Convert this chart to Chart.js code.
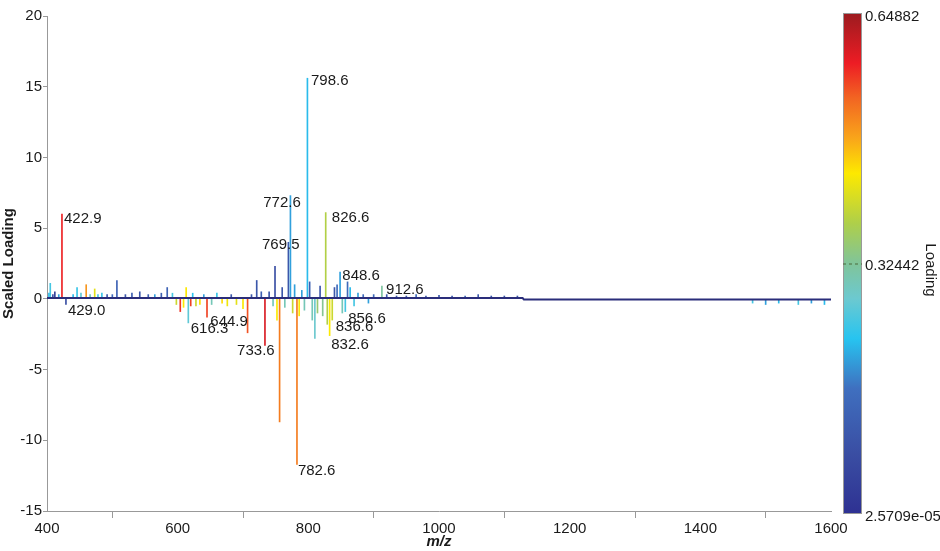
<!DOCTYPE html>
<html>
<head>
<meta charset="utf-8">
<script src="https://cdn.jsdelivr.net/npm/chart.js@4.4.0/dist/chart.umd.min.js"></script>
<style>
  body { margin: 0; background: #fff; }
</style>
</head>
<body>
<canvas id="loadingChart" width="940" height="551"></canvas>
<script>
// stems: m/z, scaled loading, loading value (drives the colour)
const peakMz = [403, 405, 409, 412, 418, 422.9, 429.0, 440, 446, 452, 460, 466, 473, 478, 484, 492, 500, 507,
  520, 530, 542, 555, 565, 575, 584, 592, 598, 604, 609, 613, 616.3, 620, 623, 628, 634, 640, 644.9, 652, 660,
  668, 676, 682, 690, 700, 707, 713, 721, 728, 733.6, 740, 746, 749, 752, 756, 760, 764, 769.5, 772.6, 776, 779,
  782.6, 786, 790, 794, 798.6, 802, 806, 810, 814, 818, 822, 826.6, 829, 832.6, 836.6, 840, 844, 848.6, 852,
  856.6, 860, 864, 870, 876, 884, 892, 900, 912.6, 920, 935, 950, 965, 980, 1000, 1020, 1040, 1060, 1080, 1100,
  1120, 1480, 1500, 1520, 1550, 1570, 1590];
const peakVal = [0.4, 1.1, 0.3, 0.5, 0.3, 6.0, -0.4, 0.3, 0.8, 0.4, 1.0, 0.3, 0.7, 0.3, 0.4, 0.3, 0.3, 1.3,
  0.3, 0.4, 0.5, 0.3, 0.3, 0.4, 0.8, 0.4, -0.4, -0.9, -0.6, 0.8, -1.7, -0.5, 0.4, -0.5, -0.4, 0.3, -1.3, -0.4, 0.4,
  -0.3, -0.5, 0.3, -0.4, -0.7, -2.4, 0.3, 1.3, 0.5, -3.3, 0.5, -0.5, 2.3, -1.5, -8.7, 0.8, -0.6, 4.0, 7.3, -1.0, 1.0,
  -11.7, -1.2, 0.6, -0.8, 15.6, 1.2, -1.5, -2.8, -1.0, 0.9, -1.2, 6.1, -1.8, -2.6, -1.5, 0.8, 1.0, 1.9, -1.0,
  -0.9, 1.2, 0.8, -0.5, 0.4, 0.3, -0.3, 0.3, 0.9, 0.3, 0.2, 0.2, 0.3, 0.2, 0.25, 0.2, 0.2, 0.3, 0.2, 0.2,
  0.2, -0.3, -0.4, -0.3, -0.4, -0.3, -0.4];
const peakLoad = [0.22, 0.25, 0.08, 0.05, 0.2, 0.58, 0.08, 0.22, 0.24, 0.27, 0.5, 0.3, 0.42, 0.25, 0.24, 0.1, 0.15, 0.13,
  0.1, 0.12, 0.1, 0.12, 0.2, 0.12, 0.13, 0.25, 0.4, 0.57, 0.44, 0.44, 0.27, 0.56, 0.23, 0.4, 0.45, 0.2, 0.56, 0.3, 0.24,
  0.45, 0.43, 0.1, 0.42, 0.44, 0.55, 0.1, 0.1, 0.12, 0.6, 0.1, 0.3, 0.08, 0.44, 0.52, 0.1, 0.3, 0.1, 0.2, 0.4, 0.2,
  0.52, 0.44, 0.2, 0.3, 0.22, 0.12, 0.3, 0.28, 0.35, 0.1, 0.33, 0.38, 0.38, 0.44, 0.4, 0.1, 0.15, 0.2, 0.3,
  0.25, 0.15, 0.22, 0.25, 0.2, 0.15, 0.2, 0.15, 0.32, 0.1, 0.1, 0.1, 0.15, 0.1, 0.1, 0.1, 0.15, 0.1, 0.1, 0.1,
  0.1, 0.25, 0.2, 0.22, 0.25, 0.2, 0.22];

// baseline trace
const baseMz = [400, 1128, 1130, 1600];
const baseVal = [0.06, 0.06, -0.05, -0.05];

// peak annotations (text left edge m/z, text centre value)
const labelText = ['422.9', '429.0', '616.3', '644.9', '733.6', '769.5', '772.6', '798.6', '782.6', '826.6', '848.6', '912.6', '856.6', '836.6', '832.6'];
const labelMz = [426, 432, 620, 650, 691, 729, 731, 804, 784, 836, 852, 919, 861, 842, 835];
const labelVal = [5.66, -0.85, -2.12, -1.63, -3.68, 3.82, 6.79, 15.43, -12.17, 5.73, 1.63, 0.64, -1.42, -1.98, -3.26];

const loadMin = 2.5709e-05;
const loadMax = 0.64882;
const loadTickText = ['0.64882', '0.32442', '2.5709e-05'];

const jetStops = [
  [0.00, [46, 49, 146]], [0.12, [58, 78, 163]], [0.25, [63, 111, 191]], [0.35, [39, 196, 240]],
  [0.43, [108, 201, 208]], [0.50, [128, 196, 154]], [0.58, [174, 207, 74]], [0.68, [253, 233, 0]],
  [0.75, [249, 165, 26]], [0.83, [242, 101, 34]], [0.90, [237, 28, 36]], [1.00, [155, 27, 31]]
];

function jet(v) {
  const f = Math.min(1, Math.max(0, (v - loadMin) / (loadMax - loadMin)));
  for (let i = 1; i < jetStops.length; i++) {
    const [f1, c1] = jetStops[i];
    const [f0, c0] = jetStops[i - 1];
    if (f <= f1) {
      const t = (f - f0) / (f1 - f0);
      const c = c0.map((a, k) => Math.round(a + (c1[k] - a) * t));
      return 'rgb(' + c.join(',') + ')';
    }
  }
  return 'rgb(155,27,31)';
}

const FONT = 'Liberation Sans, Arial, sans-serif';

const annotations = {
  id: 'annotations',
  afterDraw(chart) {
    const { ctx, scales: { x, y } } = chart;
    ctx.save();
    // peak labels
    ctx.font = '15px ' + FONT;
    ctx.fillStyle = '#1a1a1a';
    ctx.textBaseline = 'middle';
    ctx.textAlign = 'left';
    labelText.forEach((t, i) => {
      ctx.fillText(t, x.getPixelForValue(labelMz[i]), y.getPixelForValue(labelVal[i]));
    });

    // colour bar
    const top = 13, bot = 514, left = 843, w = 19;
    const grad = ctx.createLinearGradient(0, bot, 0, top);
    jetStops.forEach(([f, c]) => grad.addColorStop(f, 'rgb(' + c.join(',') + ')'));
    ctx.fillStyle = grad;
    ctx.fillRect(left, top, w, bot - top);
    ctx.strokeStyle = '#999';
    ctx.lineWidth = 1;
    ctx.strokeRect(left + 0.5, top + 0.5, w - 1, bot - top - 1);
    const mid = (top + bot) / 2;
    ctx.setLineDash([3, 3]);
    ctx.strokeStyle = '#4a6a3a';
    ctx.beginPath();
    ctx.moveTo(left, mid + 0.5);
    ctx.lineTo(left + w, mid + 0.5);
    ctx.stroke();
    ctx.setLineDash([]);
    ctx.fillStyle = '#1a1a1a';
    ctx.font = '15px ' + FONT;
    ctx.fillText(loadTickText[0], left + w + 3, top + 4);
    ctx.fillText(loadTickText[1], left + w + 3, mid + 2);
    ctx.fillText(loadTickText[2], left + w + 3, bot + 3);
    ctx.translate(930, 270);
    ctx.rotate(Math.PI / 2);
    ctx.textAlign = 'center';
    ctx.fillText('Loading', 0, 0);
    ctx.restore();
  }
};

new Chart(document.getElementById('loadingChart'), {
  type: 'bar',
  data: {
    datasets: [
      {
        type: 'line',
        data: baseMz.map((m, i) => ({ x: m, y: baseVal[i] })),
        borderColor: '#2a2d7a',
        borderWidth: 2,
        pointRadius: 0,
        order: 0
      },
      {
        data: peakMz.map((m, i) => ({ x: m, y: peakVal[i] })),
        backgroundColor: peakLoad.map(jet),
        borderWidth: 0,
        barThickness: 1,
        order: 1
      }
    ]
  },
  options: {
    responsive: false,
    animation: false,
    layout: { padding: { left: 0, right: 109, top: 16, bottom: 0 } },
    plugins: { legend: { display: false }, tooltip: { enabled: false } },
    scales: {
      x: {
        type: 'linear',
        min: 400,
        max: 1600,
        offset: false,
        afterFit: s => { s.height = 40; },
        ticks: { stepSize: 200, color: '#1a1a1a', font: { family: FONT, size: 15 }, padding: 2, maxRotation: 0,
          callback: v => String(v) },
        grid: { drawOnChartArea: false, tickLength: 7, color: '#999' },
        border: { color: '#999' },
        title: { display: true, text: 'm/z', color: '#1a1a1a', font: { family: FONT, size: 15, style: 'italic', weight: 'bold' }, padding: 0 }
      },
      y: {
        min: -15,
        max: 20,
        afterFit: s => { s.width = 47; },
        ticks: { stepSize: 5, color: '#1a1a1a', font: { family: FONT, size: 15 }, padding: 1 },
        grid: { drawOnChartArea: false, tickLength: 4, color: '#999' },
        border: { color: '#999' },
        title: { display: true, text: 'Scaled Loading', color: '#1a1a1a', font: { family: FONT, size: 15, weight: 'bold' }, padding: 0 }
      }
    }
  },
  plugins: [annotations]
});
</script>
</body>
</html>
